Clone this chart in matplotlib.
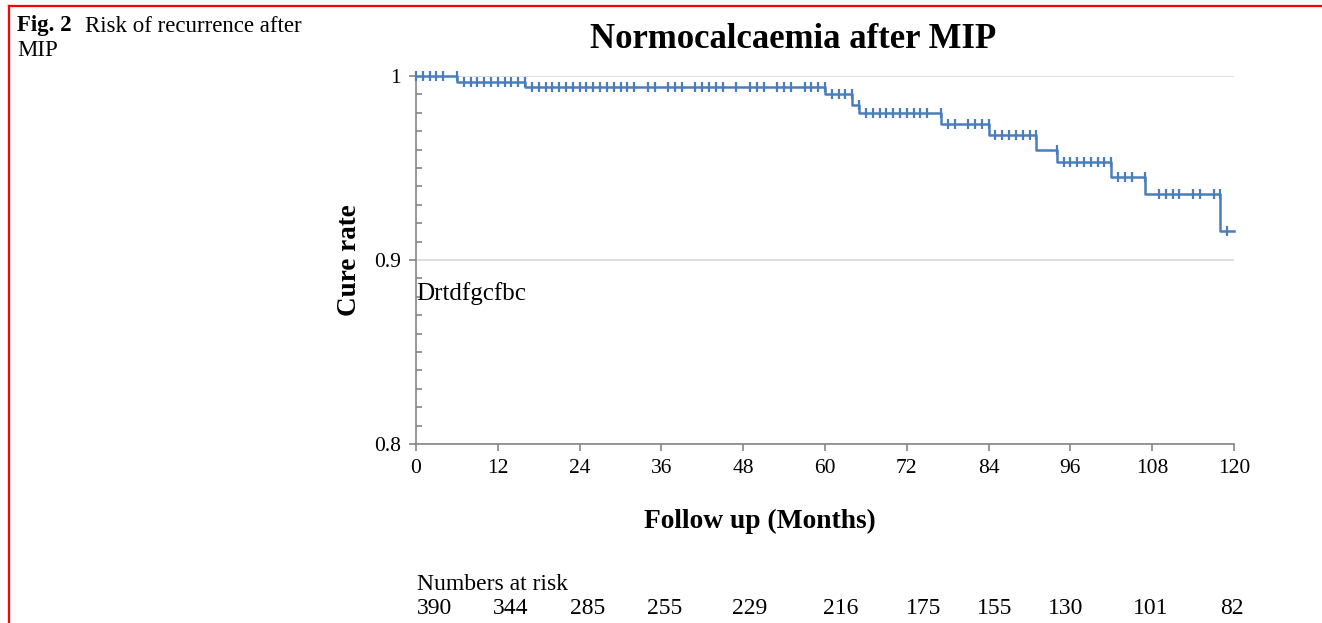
import numpy as np
import matplotlib
matplotlib.use("Agg")
import matplotlib.pyplot as plt
from matplotlib.lines import Line2D
from matplotlib.ticker import MultipleLocator, FixedLocator

# Kaplan-Meier curve: times of drops and level after each drop
event_months = [6, 16, 60, 64, 65, 77, 84, 91, 94, 102, 107, 118]
cure_levels = [1.0, 0.997, 0.994, 0.990, 0.984, 0.980, 0.974, 0.968,
               0.960, 0.953, 0.945, 0.936, 0.916]
end_month = 120

# censored observations (months)
censored_months = [0, 1, 2, 3, 4, 6,
                   7, 8, 9, 10, 11, 12, 13, 14, 15, 16,
                   17, 18, 19, 20, 21, 22, 23, 24, 25, 26, 27, 28, 29, 30, 31, 32,
                   34, 35, 37, 38, 39, 41, 42, 43, 44, 45, 47, 49, 50, 51,
                   53, 54, 55, 57, 58, 59, 60,
                   61, 62, 63, 64, 65,
                   66, 67, 68, 69, 70, 71, 72, 73, 74, 75, 77,
                   78, 79, 81, 82, 83, 84,
                   85, 86, 87, 88, 89, 90, 91,
                   94,
                   95, 96, 97, 98, 99, 100, 101, 102,
                   103, 104, 105, 107,
                   109, 110, 111, 112, 114, 115, 117, 118,
                   119]

x_ticks = list(range(0, 121, 12))
at_risk = [390, 344, 285, 255, 229, 216, 175, 155, 130, 101, 82]
at_risk_pos = [0.15, 11.3, 22.6, 33.9, 46.4, 59.7, 71.9, 82.3, 92.7, 105.2, 117.9]

blue = "#4a7ebb"
grey = "#868686"
serif = "Liberation Serif"

fig = plt.figure(figsize=(13.22, 6.23), dpi=100)
ax = fig.add_axes([416 / 1322, 1 - 444 / 623, (1234 - 416) / 1322, (444 - 76) / 623])

step_x = [0] + event_months + [end_month]
step_y = cure_levels + [cure_levels[-1]]
ax.step(step_x, step_y, where="post", color=blue, lw=1.8, clip_on=False, zorder=3)

ev = np.array(event_months)
cens_y = [cure_levels[int(np.sum(ev < t))] for t in censored_months]
ax.plot(censored_months, cens_y, ls="none", marker="|", ms=7, mew=1.6,
        color=blue, clip_on=False, zorder=4)

ax.set_xlim(0, 120)
ax.set_ylim(0.8, 1.0)
ax.xaxis.set_major_locator(FixedLocator(x_ticks))
ax.set_xticklabels([str(v) for v in x_ticks])
ax.yaxis.set_major_locator(FixedLocator([0.8, 0.9, 1.0]))
ax.set_yticklabels(["0.8", "0.9", "1"])
ax.yaxis.set_minor_locator(MultipleLocator(0.01))

for s in ["top", "right"]:
    ax.spines[s].set_visible(False)
for s in ["left", "bottom"]:
    ax.spines[s].set_color(grey)
    ax.spines[s].set_linewidth(1.2)

ax.tick_params(axis="both", which="major", direction="out", length=5,
               color=grey, width=1.2, labelsize=15.5)
ax.tick_params(axis="y", which="minor", direction="in", length=4,
               color=grey, width=1.2)
ax.tick_params(axis="x", pad=6)
ax.tick_params(axis="y", pad=6)
for lab in ax.get_xticklabels() + ax.get_yticklabels():
    lab.set_family(serif)

ax.grid(axis="y", which="major", color="#d9d9d9", lw=1.2, zorder=0)
ax.set_axisbelow(True)

ax.text(0, 0.882, "Drtdfgcfbc", family=serif, fontsize=18, ha="left", va="center")

fig.text(793 / 1322, 1 - 39 / 623, "Normocalcaemia after MIP", family=serif,
         fontsize=25, fontweight="bold", ha="center", va="center")
fig.text(350 / 1322, 1 - 260 / 623, "Cure rate", family=serif, fontsize=19.5,
         fontweight="bold", rotation=90, ha="center", va="center")
fig.text(760 / 1322, 1 - 521 / 623, "Follow up (Months)", family=serif,
         fontsize=19.8, fontweight="bold", ha="center", va="center")

fig.text(417 / 1322, 1 - 584 / 623, "Numbers at risk", family=serif,
         fontsize=17, ha="left", va="center")
row_y = -(608 - 444) / (444 - 76)
for pos, n in zip(at_risk_pos, at_risk):
    ax.text(pos, row_y, str(n), family=serif, fontsize=17, ha="left", va="center",
            transform=ax.get_xaxis_transform())

# caption and red frame
fig.text(17 / 1322, 1 - 26 / 623, "Fig. 2", family=serif, fontsize=16.5,
         fontweight="bold", ha="left", va="center")
fig.text(85 / 1322, 1 - 26 / 623, "Risk of recurrence after", family=serif,
         fontsize=16.5, ha="left", va="center")
fig.text(17 / 1322, 1 - 50 / 623, "MIP", family=serif, fontsize=16.5,
         ha="left", va="center")
fig.add_artist(Line2D([9 / 1322, 9 / 1322], [0, 1 - 6 / 623], color="red", lw=1.6,
                      transform=fig.transFigure))
fig.add_artist(Line2D([9 / 1322, 1], [1 - 6 / 623, 1 - 6 / 623], color="red", lw=1.6,
                      transform=fig.transFigure))

fig.savefig("out.png", dpi=100)
